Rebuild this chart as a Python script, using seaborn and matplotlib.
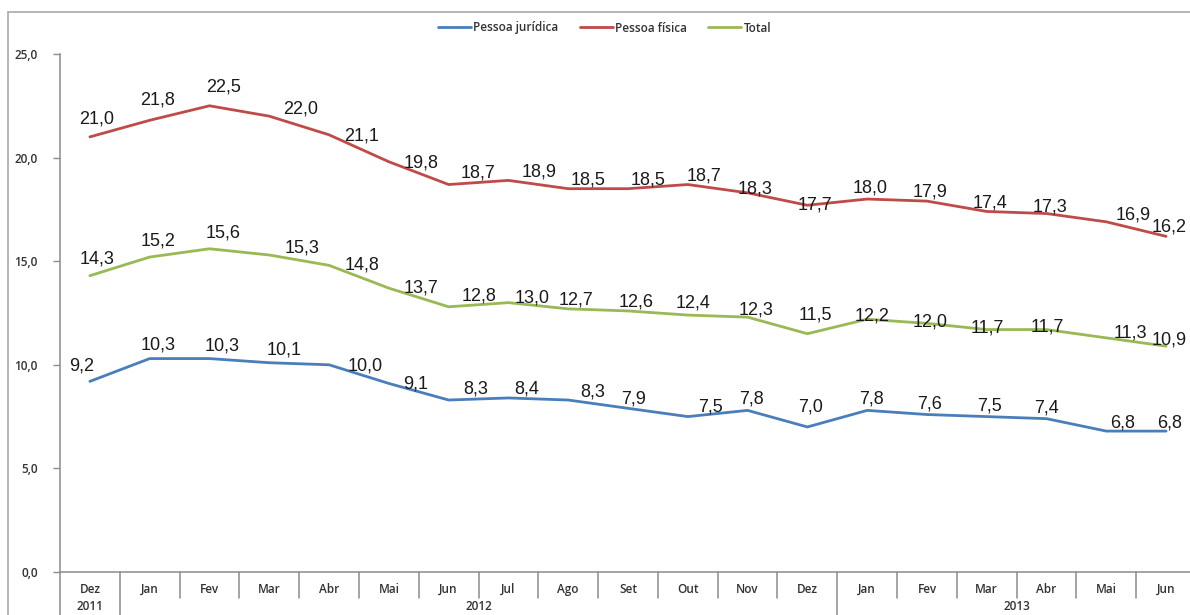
import numpy as np
import pandas as pd
import matplotlib
matplotlib.use("Agg")
import matplotlib.pyplot as plt
import seaborn as sns
from matplotlib.lines import Line2D

meses = ["Dez", "Jan", "Fev", "Mar", "Abr", "Mai", "Jun", "Jul", "Ago", "Set",
         "Out", "Nov", "Dez", "Jan", "Fev", "Mar", "Abr", "Mai", "Jun"]
anos = ["2011", "2012", "2013"]
anos_ini = [0, 1, 13]
anos_fim = [0, 12, 18]

series = ["Pessoa jurídica", "Pessoa física", "Total"]
pj = [9.2, 10.3, 10.3, 10.1, 10.0, 9.1, 8.3, 8.4, 8.3, 7.9, 7.5, 7.8, 7.0, 7.8, 7.6, 7.5, 7.4, 6.8, 6.8]
pf = [21.0, 21.8, 22.5, 22.0, 21.1, 19.8, 18.7, 18.9, 18.5, 18.5, 18.7, 18.3, 17.7, 18.0, 17.9, 17.4, 17.3, 16.9, 16.2]
total = [14.3, 15.2, 15.6, 15.3, 14.8, 13.7, 12.8, 13.0, 12.7, 12.6, 12.4, 12.3, 11.5, 12.2, 12.0, 11.7, 11.7, 11.3, 10.9]

cores = ["#4A7EBB", "#BE4B48", "#98B954"]

# label offsets in pixels (dx right, dy up), as placed in the original
off_pj = [(-8, 15), (8, 14), (13, 13), (15, 13), (36, -1), (27, -1), (27, 11), (18, 9), (24, 8), (6, 9),
          (23, 10), (4, 11), (3, 20), (4, 11), (3, 11), (3, 11), (0, 11), (16, 8), (4, 8)]
off_pf = [(7, 18), (8, 20), (14, 19), (31, 7), (33, -1), (32, -1), (29, 12), (31, 8), (20, 9), (20, 9),
          (16, 9), (7, 4), (8, 0), (3, 11), (3, 9), (3, 8), (3, 7), (27, 7), (3, 9)]
off_tot = [(7, 17), (8, 16), (14, 16), (33, 7), (33, 0), (32, 0), (30, 11), (24, 5), (8, 9), (8, 9),
           (5, 12), (8, 7), (8, 19), (5, 3), (3, 1), (1, 2), (1, 3), (24, 5), (3, 6)]

df = pd.concat([
    pd.DataFrame({"pos": range(len(meses)), "valor": vals, "serie": nome})
    for nome, vals in zip(series, [pj, pf, total])
])

sns.set_style("white")
plt.rcParams["font.family"] = ["Open Sans", "DejaVu Sans"]

fig = plt.figure(figsize=(11.9, 6.15), dpi=100)
ax = fig.add_axes([60 / 1190, 43 / 615, 1136 / 1190, 518 / 615])

sns.lineplot(data=df, x="pos", y="valor", hue="serie", palette=cores,
             linewidth=2.0, ax=ax, sort=False)

ax.set_xlim(-0.5, len(meses) - 0.5)
ax.set_ylim(0, 25)
ax.set_xlabel("")
ax.set_ylabel("")

for s in ["top", "right"]:
    ax.spines[s].set_visible(False)
for s in ["left", "bottom"]:
    ax.spines[s].set_color("#8c8c8c")
    ax.spines[s].set_linewidth(1.1)

ax.set_yticks(np.arange(0, 26, 5))
ax.set_yticklabels([f"{v:.1f}".replace(".", ",") for v in np.arange(0, 26, 5)])
ax.tick_params(axis="y", direction="out", length=5, width=1, color="#8c8c8c",
               pad=11, labelsize=8.5, labelcolor="#333333", left=True)
for t in ax.get_yticklabels():
    t.set_fontweight("semibold")

ax.set_xticks(range(len(meses)))
ax.set_xticklabels(meses)
ax.tick_params(axis="x", length=0, pad=8, labelsize=8.5, labelcolor="#333333")
for t in ax.get_xticklabels():
    t.set_fontweight("semibold")

# category separators under the axis
trans = ax.get_xaxis_transform()
for k in range(1, len(meses)):
    baixo = -0.09 if k in anos_ini else -0.05
    ax.plot([k - 0.5, k - 0.5], [0, baixo], transform=trans, color="#8c8c8c",
            lw=1.1, clip_on=False)
ax.plot([-0.5, -0.5], [0, -0.09], transform=trans, color="#8c8c8c", lw=1.1, clip_on=False)

for ano, a, b in zip(anos, anos_ini, anos_fim):
    ax.text((a + b) / 2, -0.066, ano, transform=trans, ha="center", va="center",
            fontsize=8.5, fontweight="semibold", color="#333333", clip_on=False)

# data labels
for vals, offs in zip([pj, pf, total], [off_pj, off_pf, off_tot]):
    for i, (v, (dx, dy)) in enumerate(zip(vals, offs)):
        ax.annotate(f"{v:.1f}".replace(".", ","), xy=(i, v), xytext=(dx, dy),
                    textcoords="offset pixels", ha="center", va="center",
                    fontsize=13, family=["Liberation Sans", "DejaVu Sans"],
                    color="#1a1a1a", annotation_clip=False)

sns.move_legend(ax, "center", bbox_to_anchor=(0.508, 1 - 28 / 615),
                bbox_transform=fig.transFigure, ncol=3, frameon=False, title=None,
                fontsize=8.5, handlelength=2.8, handletextpad=0.2, columnspacing=1.8)
for t in ax.get_legend().get_texts():
    t.set_fontweight("semibold")
    t.set_color("#333333")

# chart border
x0 = 8 / 1190
y0 = 1 - 12 / 615
fig.add_artist(Line2D([x0, x0], [0, y0], color="#b0b0b0", lw=1.3))
fig.add_artist(Line2D([x0, 1], [y0, y0], color="#b0b0b0", lw=1.3))

fig.savefig("out.png", dpi=100)
